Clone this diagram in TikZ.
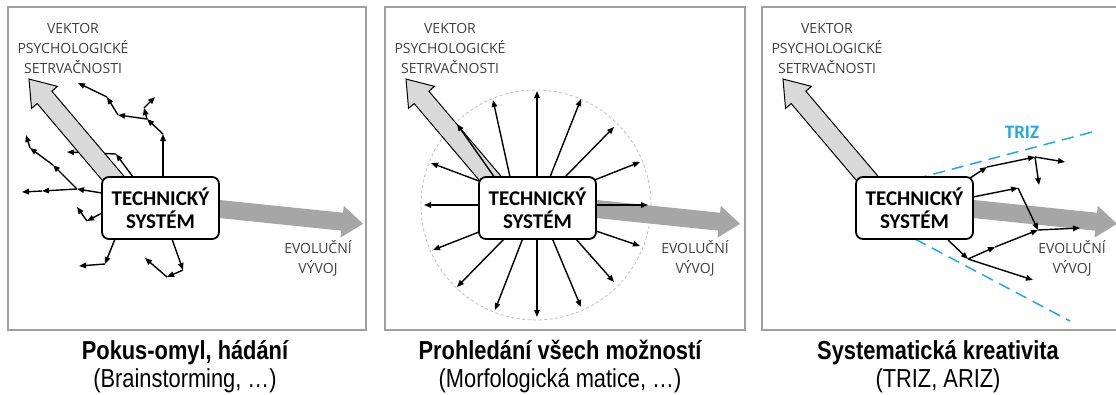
\documentclass[tikz,border=0pt]{standalone}
\usepackage{fontspec}
\setmainfont{Carlito}
\newfontfamily\labelfont{Open Sans}
\newfontfamily\captionfont[FakeStretch=0.84]{Liberation Sans}
\usetikzlibrary{arrows.meta}

\definecolor{framegray}{RGB}{160,160,160}
\definecolor{labelgray}{RGB}{64,64,64}
\definecolor{inertiafill}{RGB}{217,217,217}
\definecolor{evolfill}{RGB}{166,166,166}
\definecolor{trizblue}{RGB}{30,170,232}
\definecolor{circlegray}{RGB}{190,190,190}

\tikzset{
  panelframe/.style={draw=framegray, line width=1.4pt},
  sysbox/.style={draw, line width=1.8pt, rounded corners=7pt, fill=white,
    minimum width=117pt, minimum height=62pt, inner sep=0pt, align=center,
    font=\bfseries\fontsize{21}{23}\selectfont},
  vectorlabel/.style={align=center, text=labelgray, inner sep=0pt,
    font=\labelfont\fontsize{14}{20}\selectfont},
  walk/.style={line width=1.4pt, -{Triangle[length=7pt,width=5.5pt]}},
  inertia/.style={draw, line width=1pt, fill=inertiafill, line join=miter},
  evolution/.style={fill=evolfill},
  trizline/.style={draw=trizblue, line width=1.5pt, dash pattern=on 12pt off 7pt},
  trizlabel/.style={text=trizblue, inner sep=0pt, font=\bfseries\fontsize{19}{22}\selectfont},
  scanring/.style={draw=circlegray, line width=0.8pt, dash pattern=on 3pt off 2.5pt},
  captiontitle/.style={anchor=base, inner sep=0pt,
    font=\captionfont\bfseries\fontsize{26}{30}\selectfont},
  captionnote/.style={anchor=base, inner sep=0pt,
    font=\captionfont\fontsize{26}{30}\selectfont},
}

% thick block arrow: style, start, angle, length, shaft half width, head half width, head length
\newcommand{\fatarrow}[7]{%
  \begin{scope}[shift={#2}, rotate=#3]
    \path[#1] (0,-#5) -- ({#4-#7},-#5) -- ({#4-#7},-#6) -- (#4,0)
      -- ({#4-#7},#6) -- ({#4-#7},#5) -- (0,#5) -- cycle;
  \end{scope}}

% parts shared by the three panels (coordinates of the first panel)
\newcommand{\evolarrow}{\fatarrow{evolution}{(200,207)}{-5.9}{163.9}{9}{16}{21}}
\newcommand{\inertiaarrow}{\fatarrow{inertia}{(118.5,184.6)}{130.3}{138.4}{9.6}{17}{24}}
\newcommand{\panellabels}[1]{%
  \node[vectorlabel] (#1vec) at (73,48) {VEKTOR\\PSYCHOLOGICKÉ\\SETRVAČNOSTI};
  \node[vectorlabel] (#1evo) at (318,258) {EVOLUČNÍ\\VÝVOJ};}
\newcommand{\sysnode}[1]{\node[sysbox] (#1) at (160.5,208) {TECHNICKÝ\\SYSTÉM};}

\begin{document}
\begin{tikzpicture}[x=1pt,y=-1pt]
\useasboundingbox (0,0) rectangle (1116,394);
\fill[white] (0,0) rectangle (1116,394);

% ---------- panel 1: trial and error ----------
\draw[panelframe] (8,7) rectangle (366,330);
\evolarrow
\foreach \n/\x/\y in {a0/163/177, a1/163/134, a2/147/119, a3/118/115, a4/107/97,
    a5/78/83, a6/144/108, a7/155/97, b0/133/177, b1/116/154, b2/67/152,
    c0/102/193, c1/77/189, c2/42/191, c3/22/192, c4/53/165, c5/30/148, c6/26/135,
    d0/102/213, d1/87/221, d2/77/207, e0/115/239, e1/105/264, e2/79/266,
    f0/172/239, f1/183/270, f2/167/277, f3/145/258}
  \coordinate (\n) at (\x,\y);
\foreach \s/\t in {a0/a1, a1/a2, a2/a3, a3/a4, a4/a5, a2/a6, a6/a7, b0/b1, b1/b2,
    c0/c1, c1/c2, c2/c3, c1/c4, c4/c5, c5/c6, d0/d1, d1/d2, e0/e1, e1/e2,
    f0/f1, f1/f2, f2/f3}
  \draw[walk] (\s) -- (\t);
\inertiaarrow
\sysnode{boxA}
\panellabels{A}
\node[captiontitle] (capA1) at (185,359) {Pokus-omyl, hádání};
\node[captionnote] (capA2) at (185,387) {(Brainstorming, …)};

% ---------- panel 2: search of all options ----------
\draw[panelframe] (385,7) rectangle (745,330);
\node[scanring, circle, minimum size=230pt, inner sep=0pt] (ring) at (536,205) {};
\begin{scope}[xshift=377pt]
  \evolarrow
  \inertiaarrow
\end{scope}
\foreach \sx/\sy/\ex/\ey [count=\i] in {
    537/177/537/91, 510/177/493/100, 495/178/457/124, 479/181/431/163,
    478/205/424/205, 479/232/433/250, 505/238/457/287, 523/238/495/310,
    537/238/537/317, 552/238/581/307, 575/238/614/282, 593/230/640/246,
    594/205/648/205, 592/181/640/162, 565/177/614/127, 550/177/581/99} {
  \coordinate (rs\i) at (\sx,\sy);
  \coordinate (re\i) at (\ex,\ey);
  \draw[walk] (rs\i) -- (re\i);
}
\begin{scope}[xshift=377pt]
  \sysnode{boxB}
  \panellabels{B}
\end{scope}
\node[captiontitle] (capB1) at (560,359) {Prohledání všech možností};
\node[captionnote] (capB2) at (560,387) {(Morfologická matice, …)};

% ---------- panel 3: systematic creativity ----------
\draw[panelframe] (762,7) rectangle (1130,330);
\begin{scope}[xshift=754pt]
  \evolarrow
  \inertiaarrow
\end{scope}
\coordinate (t0) at (915,179);
\coordinate (t1) at (1092,132);
\coordinate (t2) at (915,239);
\coordinate (t3) at (1070,321);
\draw[trizline] (t0) -- (t1);
\draw[trizline] (t2) -- (t3);
\node[trizlabel] (triz) at (1022,132) {TRIZ};
\foreach \n/\x/\y in {g0/970/178, g1/987/167, g2/1035/157, g3/1065/162, g4/1039/185,
    h0/973/197, h1/1018/188, h2/1038/230, h3/1080/228,
    k0/948/240, k1/968/259, k2/995/247, k3/1033/280}
  \coordinate (\n) at (\x,\y);
\foreach \s/\t in {g0/g1, g1/g2, g2/g3, g2/g4, h0/h1, h1/h2, h2/h3,
    k0/k1, k1/k2, k2/h2, k1/k3}
  \draw[walk] (\s) -- (\t);
\begin{scope}[xshift=754pt]
  \sysnode{boxC}
  \panellabels{C}
\end{scope}
\node[captiontitle] (capC1) at (938,359) {Systematická kreativita};
\node[captionnote] (capC2) at (938,387) {(TRIZ, ARIZ)};
\end{tikzpicture}
\end{document}
